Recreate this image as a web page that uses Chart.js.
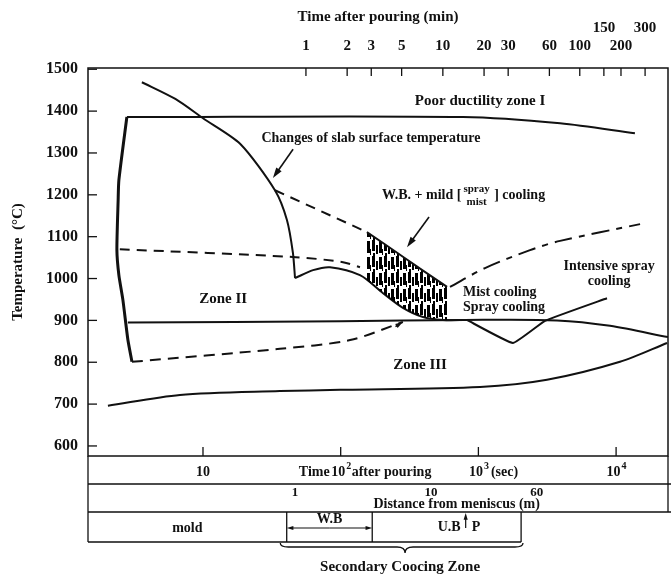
<!DOCTYPE html>
<html>
<head>
<meta charset="utf-8">
<script src="https://cdn.jsdelivr.net/npm/chart.js@4.4.0/dist/chart.umd.min.js"></script>
<style>
html, body { margin: 0; padding: 0; background: #fff; }
canvas { display: block; }
</style>
</head>
<body>
<canvas id="chart" width="671" height="579"></canvas>
<script>
// x = time after pouring (s), y = temperature (deg C)
const slabFall = [[3.6, 1469], [6.3, 1429], [10, 1383], [18.6, 1322], [33.3, 1211], [40.7, 1140], [45, 1061], [46.6, 1001]];
const slabMild = [[46.6, 1001], [63, 1020], [83.6, 1027], [138, 1008], [203, 965], [283, 930], [396, 908], [553, 901], [826, 901]];
const slabIntensive = [[826, 901], [1782, 846], [3046, 899], [8590, 953]];
const slabWB = [[33.3, 1211], [155, 1111]];
const hatchTop = [[155, 1111], [203, 1085], [283, 1052], [396, 1019], [592, 980]];
const hatchBottom = [[155, 996], [203, 965], [283, 930], [396, 908], [592, 901]];
const slabMist = [[622, 980], [1117, 1025], [2371, 1068], [3920, 1090], [14930, 1130]];
const upperDashed = [[2.49, 1070], [47.3, 1051], [104, 1039], [138, 1027]];
const lowerDashed = [[3.05, 801], [36.2, 832], [117, 853], [283, 896]];
const zone1Top = [[2.8, 1386], [773, 1386], [3920, 1371], [13700, 1347]];
const zone2Left = [[2.8, 1386], [2.45, 1235], [2.42, 1187], [2.37, 1068], [2.45, 1008], [2.62, 949], [2.85, 853], [3.05, 801]];
const line900 = [[2.85, 895], [100, 898], [800, 901], [3722, 900], [9040, 887], [23800, 860]];
const zone3Bottom = [[2.04, 696], [6.8, 722], [36.2, 731], [99, 734], [1028, 741], [3150, 758], [10670, 801], [23440, 846]];

const minTicks = [1, 2, 3, 5, 10, 20, 30, 60, 100, 150, 200, 300];
const minRaised = [150, 300];
const secTicks = [10, 100, 1000, 10000];
const distLabels = [1, 10, 60];
// cooling zones along the strand (m from meniscus)
const zoneEdges = [0.87, 3.7, 46];
const pinchRoll = 18;

const FONT = 'Liberation Serif';
const INK = '#111';

function pts(a) { return a.map(p => ({x: p[0], y: p[1]})); }

// rough vertical strokes, like the inked hatching in the print
function makeHatch() {
    const c = document.createElement('canvas');
    c.width = 12; c.height = 16;
    const g = c.getContext('2d');
    g.fillStyle = '#000';
    g.fillRect(0, 0, 3, 11);
    g.fillRect(4, 5, 2, 9);
    g.fillRect(7, 1, 3, 12);
    g.fillRect(10, 9, 1, 6);
    g.fillRect(1, 13, 2, 3);
    return g.createPattern(c, 'repeat');
}

function line(data, opts) {
    return Object.assign({
        data: pts(data), showLine: true, pointRadius: 0, borderColor: INK,
        borderWidth: 2, fill: false, tension: 0.3
    }, opts || {});
}

function arrow(g, x1, y1, x2, y2, size) {
    const a = Math.atan2(y2 - y1, x2 - x1);
    size = size || 9;
    g.beginPath();
    g.moveTo(x1, y1);
    g.lineTo(x2 - Math.cos(a) * size * 0.7, y2 - Math.sin(a) * size * 0.7);
    g.stroke();
    g.beginPath();
    g.moveTo(x2, y2);
    g.lineTo(x2 - Math.cos(a - 0.3) * size, y2 - Math.sin(a - 0.3) * size);
    g.lineTo(x2 - Math.cos(a + 0.3) * size, y2 - Math.sin(a + 0.3) * size);
    g.closePath();
    g.fill();
}

function pow10(g, exp, cx, y, tail) {
    g.font = 'bold 14px ' + FONT;
    const wb = g.measureText('10').width;
    g.font = 'bold 10px ' + FONT;
    const we = g.measureText(exp).width;
    const x0 = cx - (wb + we) / 2;
    g.textAlign = 'left';
    g.font = 'bold 14px ' + FONT;
    g.fillText('10', x0, y);
    g.font = 'bold 10px ' + FONT;
    g.fillText(exp, x0 + wb + 1, y - 6);
    if (tail) {
        g.font = 'bold 14px ' + FONT;
        g.fillText(tail, x0 + wb + we + 3, y);
    }
}

const extras = {
    id: 'extras',
    afterDatasetsDraw(chart) {
        const g = chart.ctx;
        const {left: L, right: R, top: T, bottom: B} = chart.chartArea;
        const xs = chart.scales.x, xd = chart.scales.xDist, xm = chart.scales.xMin, ys = chart.scales.y;
        const px = v => xs.getPixelForValue(v);
        const py = v => ys.getPixelForValue(v);
        g.save();
        g.strokeStyle = INK;
        g.fillStyle = INK;
        g.lineWidth = 1.5;

        // frame
        g.strokeRect(L, T, R - L, B - T);

        // inward ticks
        g.lineWidth = 1.3;
        ys.ticks.forEach(t => {
            const y = py(t.value);
            g.beginPath(); g.moveTo(L, y); g.lineTo(L + 9, y); g.stroke();
        });
        minTicks.forEach(v => {
            const x = xm.getPixelForValue(v);
            g.beginPath(); g.moveTo(x, T); g.lineTo(x, T + 8); g.stroke();
        });
        secTicks.forEach(v => {
            const x = px(v);
            g.beginPath(); g.moveTo(x, B); g.lineTo(x, B - 9); g.stroke();
        });

        // arrows in the plot
        g.lineWidth = 1.6;
        arrow(g, px(45.1), py(1309), px(32.2), py(1240), 11);
        arrow(g, px(438), py(1147), px(303), py(1075), 11);
        arrow(g, px(250), py(885), px(283), py(896), 8);

        // labels in the plot
        g.textBaseline = 'middle';
        g.textAlign = 'center';
        g.font = 'bold 15px ' + FONT;
        g.fillText('Poor ductility zone I', px(1028), py(1424));
        g.font = 'bold 14px ' + FONT;
        g.fillText('Changes of slab surface temperature', px(166), py(1336));
        g.font = 'bold 15px ' + FONT;
        g.fillText('Zone II', px(14), py(951));
        g.fillText('Zone III', px(377), py(793));
        g.font = 'bold 14px ' + FONT;
        g.fillText('Intensive spray', px(8900), py(1030));
        g.fillText('cooling', px(8900), py(992));
        g.textAlign = 'left';
        g.fillText('Mist cooling', px(773), py(968));
        g.fillText('Spray cooling', px(773), py(932));

        // W.B. + mild [spray/mist] cooling
        let wx = px(199.5);
        const wy = py(1199);
        g.fillText('W.B. + mild [', wx, wy);
        wx += g.measureText('W.B. + mild [').width + 2;
        g.font = 'bold 11px ' + FONT;
        const sw = g.measureText('spray').width;
        g.fillText('spray', wx, wy - 6);
        g.fillText('mist', wx + (sw - g.measureText('mist').width) / 2, wy + 7);
        g.font = 'bold 14px ' + FONT;
        g.fillText(' ] cooling', wx + sw + 1, wy);

        // table under the plot
        const r1 = B + 28, r2 = B + 56, r3 = B + 86;
        g.lineWidth = 1.3;
        g.beginPath();
        g.moveTo(L, B); g.lineTo(L, r3);
        g.moveTo(R, B); g.lineTo(R, r2);
        g.moveTo(L, r1); g.lineTo(671, r1);
        g.moveTo(L, r2); g.lineTo(671, r2);
        const ze = zoneEdges.map(v => xd.getPixelForValue(v));
        g.moveTo(L, r3); g.lineTo(ze[2], r3);
        ze.forEach(x => { g.moveTo(x, r2); g.lineTo(x, r3); });
        g.stroke();

        g.textBaseline = 'middle';
        g.textAlign = 'center';
        g.font = 'bold 14px ' + FONT;
        g.fillText('10', px(10), B + 16);
        g.textAlign = 'right';
        g.fillText('Time', px(100) - 11, B + 16);
        g.textAlign = 'left';
        g.fillText('after pouring', px(100) + 11, B + 16);
        pow10(g, '2', px(100), B + 16);
        pow10(g, '3', px(1000), B + 16, '(sec)');
        pow10(g, '4', px(10000), B + 16);

        g.textAlign = 'center';
        g.font = 'bold 13px ' + FONT;
        distLabels.forEach(v => g.fillText(String(v), xd.getPixelForValue(v), r1 + 9));
        g.font = 'bold 14px ' + FONT;
        g.fillText('Distance from meniscus (m)', (ze[1] + ze[2]) / 2 + 10, r2 - 8);

        g.fillText('mold', (L + ze[0]) / 2, r2 + 16);
        g.fillText('W.B', (ze[0] + ze[1]) / 2, r2 + 7);
        g.lineWidth = 1.2;
        arrow(g, (ze[0] + ze[1]) / 2, r2 + 16, ze[0], r2 + 16, 7);
        arrow(g, (ze[0] + ze[1]) / 2, r2 + 16, ze[1], r2 + 16, 7);
        const pp = xd.getPixelForValue(pinchRoll);
        arrow(g, pp, r2 + 16, pp, r2 + 1, 7);
        g.textAlign = 'right';
        g.fillText('U.B', pp - 5, r2 + 15);
        g.textAlign = 'left';
        g.fillText('P', pp + 6, r2 + 15);

        // brace for the secondary cooling zone
        const bx1 = xd.getPixelForValue(0.78), bx2 = xd.getPixelForValue(47.5), bm = xd.getPixelForValue(6.45);
        const by = r3 + 5;
        g.lineWidth = 1.3;
        g.beginPath();
        g.moveTo(bx1, by - 4);
        g.quadraticCurveTo(bx1, by, bx1 + 8, by);
        g.lineTo(bm - 8, by);
        g.quadraticCurveTo(bm, by, bm, by + 6);
        g.quadraticCurveTo(bm, by, bm + 8, by);
        g.lineTo(bx2 - 8, by);
        g.quadraticCurveTo(bx2, by, bx2, by - 4);
        g.stroke();
        g.textAlign = 'center';
        g.font = 'bold 15px ' + FONT;
        g.fillText('Secondary Coocing Zone', bm - 5, r3 + 25);
        g.restore();
    }
};

const ctx = document.getElementById('chart').getContext('2d');
new Chart(ctx, {
    type: 'scatter',
    data: {
        datasets: [
            line(hatchTop, {borderWidth: 2, tension: 0, fill: '+1', backgroundColor: makeHatch()}),
            line(hatchBottom, {borderWidth: 0, borderColor: 'rgba(0,0,0,0)'}),
            line(slabFall, {borderWidth: 2, tension: 0.25}),
            line(slabMild, {borderWidth: 2}),
            line(slabIntensive, {borderWidth: 2, tension: 0.1}),
            line(slabWB, {borderDash: [10, 7], tension: 0}),
            line(slabMist, {borderDash: [18, 7, 6, 7]}),
            line(upperDashed, {borderDash: [10, 7]}),
            line(lowerDashed, {borderDash: [11, 7]}),
            line(zone1Top, {borderWidth: 2}),
            line(zone2Left, {borderWidth: 3, tension: 0.2}),
            line(line900, {borderWidth: 2}),
            line(zone3Bottom, {borderWidth: 2})
        ]
    },
    options: {
        responsive: false,
        animation: false,
        layout: {padding: {left: 0, right: 3, top: 0, bottom: 123}},
        plugins: {legend: {display: false}, tooltip: {enabled: false}},
        scales: {
            x: {type: 'logarithmic', min: 1.462, max: 23820, display: false},
            xDist: {type: 'logarithmic', axis: 'x', min: 0.0301, max: 553, display: false},
            xMin: {
                type: 'logarithmic', axis: 'x', position: 'top', min: 0.0256, max: 441,
                afterBuildTicks: s => { s.ticks = minTicks.map(v => ({value: v})); },
                afterFit: s => { s.height = 68; },
                ticks: {
                    autoSkip: false, maxRotation: 0, padding: 13, color: INK,
                    font: {family: FONT, size: 15, weight: 'bold'},
                    callback: v => minRaised.includes(v) ? [String(v), ''] : String(v)
                },
                grid: {drawOnChartArea: false, drawTicks: false},
                border: {display: false},
                title: {display: true, text: 'Time after pouring (min)', color: INK, padding: {top: 8},
                    font: {family: FONT, size: 15, weight: 'bold'}}
            },
            y: {
                min: 576, max: 1503,
                afterFit: s => { s.width = 88; },
                ticks: {stepSize: 100, includeBounds: false, padding: 10, color: INK,
                    font: {family: FONT, size: 16, weight: 'bold'},
                    callback: v => String(v)},
                grid: {drawOnChartArea: false, drawTicks: false},
                border: {display: false},
                title: {display: true, text: 'Temperature  (°C)', color: INK, padding: {top: 9},
                    font: {family: FONT, size: 15, weight: 'bold'}}
            }
        }
    },
    plugins: [extras]
});
</script>
</body>
</html>
